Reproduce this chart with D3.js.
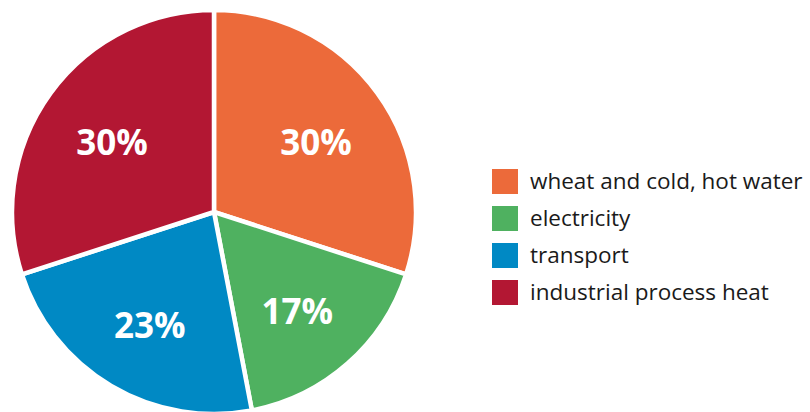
<!DOCTYPE html>
<html>
<head>
<meta charset="utf-8">
<script src="https://cdn.jsdelivr.net/npm/d3@7"></script>
<style>
  body { margin: 0; background: #fff; }
  svg { display: block; }
</style>
</head>
<body>
<svg id="chart" width="810" height="412"></svg>
<script>

// pie data
var categories = ["wheat and cold, hot water", "electricity", "transport", "industrial process heat"];
var shares     = [30, 17, 23, 30];
var colors     = ["#EC6A3A", "#4FB160", "#0089C4", "#B31733"];

var svg    = d3.select("#chart"),
    cx     = 214,
    cy     = 212,
    radius = 202;

var pie = d3.pie().sort(null).value(function(d) { return d; });
var arc = d3.arc().innerRadius(0).outerRadius(radius);
var labelArc = d3.arc().innerRadius(126).outerRadius(126);

var g = svg.append("g").attr("transform", "translate(" + cx + "," + cy + ")");

var slices = g.selectAll("g.slice")
    .data(pie(shares))
    .enter()
    .append("g")
    .attr("class", "slice");

slices.append("path")
    .attr("d", arc)
    .style("fill", function(d, i) { return colors[i]; })
    .style("stroke", "#fff")
    .style("stroke-width", 4.5)
    .style("stroke-linejoin", "miter");

slices.append("text")
    .attr("transform", function(d) { return "translate(" + labelArc.centroid(d) + ")"; })
    .attr("text-anchor", "middle")
    .attr("dy", "0.5em")
    .style("font-family", "'Open Sans', sans-serif")
    .style("font-weight", "bold")
    .style("font-size", "35px")
    .style("fill", "#fff")
    .text(function(d) { return d.value + "%"; });

// legend
var legend = svg.append("g").attr("transform", "translate(492,169)");

var rows = legend.selectAll("g.row")
    .data(categories)
    .enter()
    .append("g")
    .attr("class", "row")
    .attr("transform", function(d, i) { return "translate(0," + (i * 37) + ")"; });

rows.append("rect")
    .attr("width", 26)
    .attr("height", 25)
    .style("fill", function(d, i) { return colors[i]; });

rows.append("text")
    .attr("x", 38)
    .attr("y", 12.5)
    .attr("dy", "0.35em")
    .style("font-family", "'Open Sans', sans-serif")
    .style("font-size", "22.5px")
    .style("fill", "#1a1a1a")
    .text(function(d) { return d; });

</script>
</body>
</html>
